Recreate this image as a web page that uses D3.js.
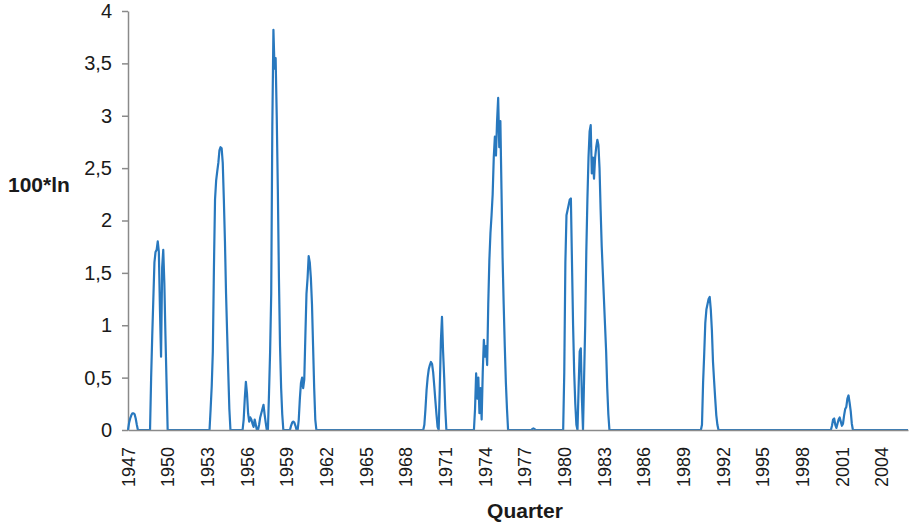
<!DOCTYPE html>
<html>
<head>
<meta charset="utf-8">
<script src="https://cdn.jsdelivr.net/npm/d3@7"></script>
<style>
  html, body { margin: 0; padding: 0; background: #fff; }
  svg { display: block; }
  text { font-family: "Liberation Sans", Arial, sans-serif; fill: #1a1a1a; }
</style>
</head>
<body>
<svg id="chart" width="910" height="526"></svg>
<script>
// Monthly readings of 100*ln, grouped by the spells where the series is above zero.
// Outside these spells the series is 0.
const firstYear = 1947;
const lastYear = 2006;
const spellStart = [1947.0, 1948.6667, 1953.1667, 1955.6667, 1959.25, 1969.3333, 1973.1667, 1977.5, 1979.9167, 1990.3333, 2000.1667];
const spell1947 = [0, 0.07, 0.11, 0.14, 0.16, 0.16, 0.15, 0.11, 0.05, 0];
const spell1948 = [0, 0.5, 0.9, 1.25, 1.6, 1.7, 1.72, 1.8, 1.7, 1.15, 0.7, 1.55, 1.72, 1.4, 0.9, 0.45, 0];
const spell1953 = [0, 0.2, 0.42, 0.75, 1.55, 2.2, 2.38, 2.47, 2.55, 2.67, 2.7, 2.69, 2.55, 2.2, 1.8, 1.3, 0.92, 0.55, 0.2, 0];
const spell1955 = [0, 0.1, 0.3, 0.46, 0.35, 0.16, 0.08, 0.12, 0.1, 0.06, 0.03, 0.1, 0.05, 0, 0, 0.05, 0.12, 0.16, 0.2, 0.24,
                   0.15, 0.07, 0, 0, 0.35, 0.75, 1.3, 2.9, 3.82, 3.45, 3.55, 3.0, 2.3, 1.45, 0.8, 0.4, 0.15, 0];
const spell1959 = [0, 0.04, 0.07, 0.08, 0.07, 0.04, 0, 0, 0.1, 0.3, 0.45, 0.5, 0.4, 0.48, 0.9, 1.3, 1.45, 1.66, 1.6, 1.45, 1.2, 0.8, 0.4, 0.1, 0];
const spell1969 = [0, 0.05, 0.2, 0.38, 0.5, 0.58, 0.62, 0.65, 0.63, 0.55, 0.42, 0.28, 0.15, 0.03, 0, 0.4, 0.85, 1.08, 0.75, 0.5, 0.2, 0];
const spell1973 = [0, 0.2, 0.54, 0.3, 0.5, 0.16, 0.4, 0.1, 0.55, 0.86, 0.7, 0.8, 0.62, 1.2, 1.62, 1.88, 2.05, 2.25, 2.6, 2.8,
                   2.62, 2.95, 3.17, 2.7, 2.95, 2.3, 1.65, 1.2, 0.8, 0.45, 0.2, 0];
const spell1977 = [0, 0.01, 0.015, 0.01, 0];
const spell1979 = [0, 0.55, 1.6, 2.05, 2.1, 2.15, 2.2, 2.21, 1.6, 1.0, 0.55, 0.25, 0.05, 0, 0.4, 0.75, 0.78, 0.3, 0, 0.5,
                   1.0, 1.7, 2.2, 2.6, 2.85, 2.91, 2.45, 2.6, 2.4, 2.6, 2.7, 2.77, 2.72, 2.5, 2.1, 1.75, 1.5, 1.25, 1.0, 0.75,
                   0.4, 0.15, 0];
const spell1990 = [0, 0.05, 0.45, 0.72, 1.02, 1.15, 1.2, 1.25, 1.27, 1.15, 0.95, 0.65, 0.47, 0.3, 0.14, 0.05, 0];
const spell2000 = [0, 0.04, 0.1, 0.11, 0.05, 0.02, 0.06, 0.1, 0.12, 0.08, 0.04, 0.06, 0.14, 0.2, 0.22, 0.3, 0.33, 0.26, 0.18, 0.06, 0];
const spellValues = [spell1947, spell1948, spell1953, spell1955, spell1959, spell1969, spell1973, spell1977, spell1979, spell1990, spell2000];

const yearTicks = d3.range(1947, 2005, 3);
const yTicks = [0, 0.5, 1, 1.5, 2, 2.5, 3, 3.5, 4];

// Full monthly series
const nMonths = (lastYear - firstYear) * 12 + 1;
const values = new Array(nMonths).fill(0);
spellStart.forEach((s, i) => {
  const i0 = Math.round((s - firstYear) * 12);
  spellValues[i].forEach((v, k) => { values[i0 + k] = v; });
});
const series = values.map((v, i) => ({ t: firstYear + i / 12, v }));

const svg = d3.select("#chart");
const plotLeft = 128, plotRight = 908, plotTop = 11, plotBottom = 430;

const x = d3.scaleLinear().domain([firstYear, lastYear]).range([plotLeft, plotRight]);
const y = d3.scaleLinear().domain([0, 4]).range([plotBottom, plotTop]);

const axisColor = "#8a8a8a";
const fmt = d => String(d).replace(".", ",");

// y axis
const gy = svg.append("g")
  .attr("transform", `translate(${plotLeft},0)`)
  .call(d3.axisLeft(y).tickValues(yTicks).tickFormat(fmt).tickSize(6).tickSizeOuter(0).tickPadding(10));
gy.select(".domain").attr("stroke", axisColor).attr("stroke-width", 1.5);
gy.selectAll(".tick line").attr("stroke", axisColor).attr("stroke-width", 1.5);
gy.selectAll(".tick text").attr("font-size", 20).style("font-family", "'Liberation Sans', Arial, sans-serif").attr("fill", "#1a1a1a");

// the line
svg.append("path")
  .datum(series)
  .attr("fill", "none")
  .attr("stroke", "#2878be")
  .attr("stroke-width", 2.2)
  .attr("stroke-linejoin", "round")
  .attr("d", d3.line().x(d => x(d.t)).y(d => y(d.v)));

// x axis with rotated year labels
const gx = svg.append("g")
  .attr("transform", `translate(0,${plotBottom})`)
  .call(d3.axisBottom(x).tickValues(yearTicks).tickFormat(d3.format("d")).tickSize(0).tickSizeOuter(0));
gx.select(".domain").attr("stroke", axisColor).attr("stroke-width", 1.5);
gx.selectAll(".tick text")
  .attr("font-size", 18)
  .style("font-family", "'Liberation Sans', Arial, sans-serif")
  .attr("fill", "#1a1a1a")
  .attr("transform", "rotate(-90)")
  .attr("x", -17)
  .attr("y", 0)
  .attr("dy", "0.35em")
  .attr("text-anchor", "end");

// axis titles
svg.append("text")
  .attr("x", 8).attr("y", 192)
  .attr("font-size", 21).attr("font-weight", "bold")
  .text("100*ln");

svg.append("text")
  .attr("x", 525).attr("y", 518)
  .attr("text-anchor", "middle")
  .attr("font-size", 21).attr("font-weight", "bold")
  .text("Quarter");
</script>
</body>
</html>
